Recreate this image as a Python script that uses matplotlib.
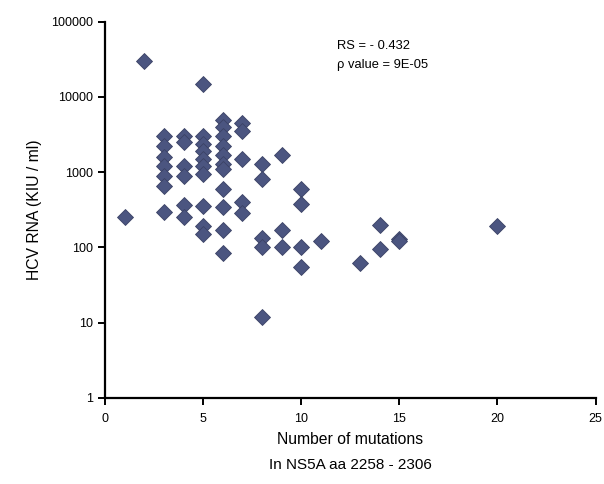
import matplotlib.pyplot as plt
from matplotlib.ticker import FixedLocator, FixedFormatter

plt.rcParams['font.family'] = ['Liberation Sans', 'DejaVu Sans']

# number of mutations in NS5A aa 2258-2306 vs HCV RNA (KIU/ml)
mutations = [1,
             2,
             3, 3, 3, 3, 3, 3, 3,
             4, 4, 4, 4, 4, 4,
             5, 5, 5, 5, 5, 5, 5, 5, 5, 5,
             6, 6, 6, 6, 6, 6, 6, 6, 6, 6, 6,
             7, 7, 7, 7, 7,
             8, 8, 8, 8, 8,
             9, 9, 9,
             10, 10, 10, 10,
             11,
             13,
             14, 14,
             15, 15,
             20]
rna = [250,
       30000,
       3000, 2200, 1600, 1200, 900, 650, 300,
       3000, 2500, 1200, 900, 370, 255,
       15000, 3000, 2400, 1900, 1500, 1200, 950, 350, 190, 150,
       5000, 4000, 3000, 2200, 1700, 1300, 1100, 600, 340, 170, 85,
       4500, 3500, 1500, 400, 290,
       1300, 800, 135, 100, 12,
       1700, 170, 100,
       600, 380, 100, 55,
       120,
       63,
       200, 95,
       130, 120,
       190]

y_ticks = [1, 10, 100, 1000, 10000, 100000]
y_labels = ['1', '10', '100', '1000', '10000', '100000']
x_ticks = [0, 5, 10, 15, 20, 25]

fig = plt.figure(figsize=(6.04, 4.84), dpi=100)
ax = fig.add_axes([0.174, 0.178, 0.812, 0.777])

ax.plot(mutations, rna, linestyle='none', marker='D', markersize=8.5,
        markerfacecolor='#4b5580', markeredgecolor='#3b4265', markeredgewidth=0.6)

ax.set_yscale('log')
ax.set_ylim(1, 100000)
ax.set_xlim(0, 25)
ax.yaxis.set_major_locator(FixedLocator(y_ticks))
ax.yaxis.set_major_formatter(FixedFormatter(y_labels))
ax.yaxis.set_minor_locator(FixedLocator([]))
ax.set_xticks(x_ticks)

for s in ['top', 'right']:
    ax.spines[s].set_visible(False)
for s in ['left', 'bottom']:
    ax.spines[s].set_linewidth(1.6)
ax.tick_params(axis='both', direction='out', length=5, width=1.4, labelsize=9)
ax.tick_params(axis='x', pad=6)

ax.set_ylabel('HCV RNA (KIU / ml)', fontsize=11.3, labelpad=7)
ax.set_xlabel('Number of mutations', fontsize=11.3, labelpad=5)
fig.text(0.581, 0.039, 'In NS5A aa 2258 - 2306', fontsize=11, ha='center', va='center')

ax.text(11.8, 47000, 'RS = - 0.432', fontsize=9.3, va='center')
ax.text(11.8, 27000, 'ρ value = 9E-05', fontsize=9.3, va='center')

fig.savefig('out.png', dpi=100)
